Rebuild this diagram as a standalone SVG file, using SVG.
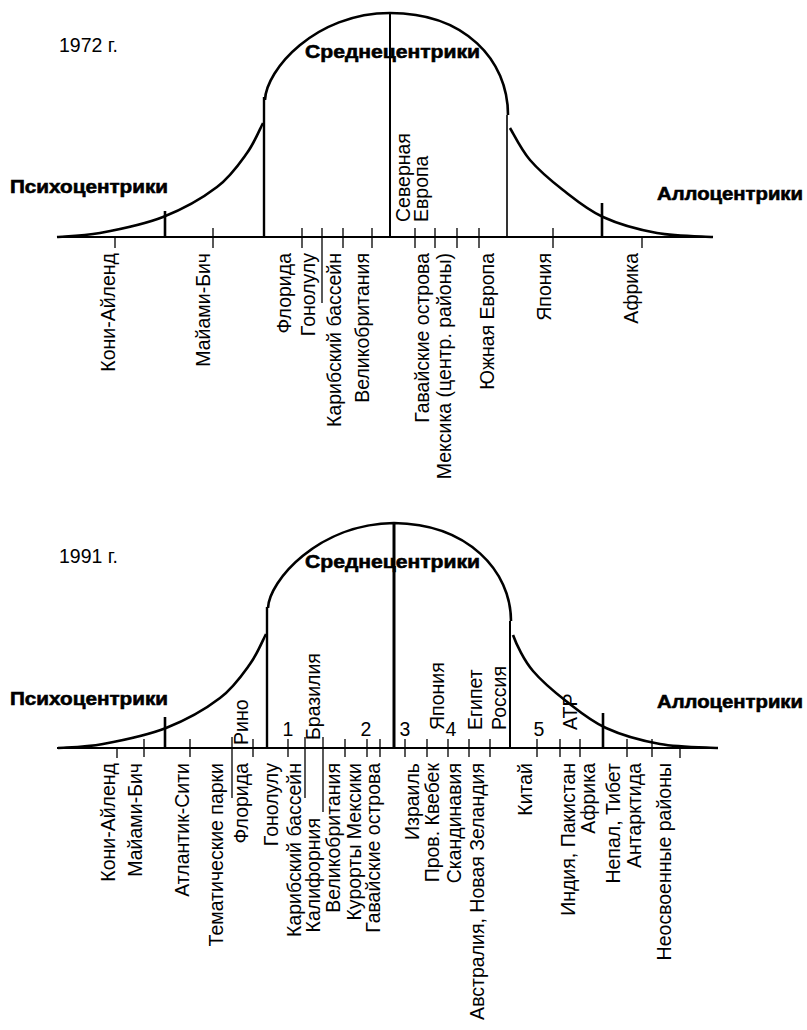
<svg xmlns="http://www.w3.org/2000/svg" width="807" height="1030" viewBox="0 0 807 1030">
<style>
text{font-family:"Liberation Sans",Arial,sans-serif;fill:#000}
.t{font-size:19.5px}
.v{font-size:19.5px;text-anchor:end}
.s{font-size:19.5px}
.b{font-size:19px;font-weight:bold;stroke:#000;stroke-width:0.6}
.ax{stroke:#000;stroke-width:2.2;fill:none}
.cv{stroke:#000;stroke-width:2.6;fill:none}
.tk{stroke:#000;stroke-width:1.3;fill:none}
.mk{stroke:#000;stroke-width:2.6;fill:none}
.vl{stroke:#000;fill:none}
</style>
<rect width="807" height="1030" fill="#fff"/>

<!-- ===== 1972 ===== -->
<g id="chart-1972">
  <g id="curve-1972">
    <path class="cv" d="M57,237 C64,236.3 82.3,236.3 100,233 C117.7,229.7 143.5,224.7 163,217 C182.5,209.3 203,197.7 217,187 C231,176.3 239.3,163.7 247,153 C254.7,142.3 260.3,128 263,123"/>
    <path class="cv" d="M265,100 C266,70 315,13 390,13 C465,13 508,60 508,115"/>
    <path class="cv" d="M510,128 C513.3,133.3 521.2,149.7 530,160 C538.8,170.3 550.8,180.5 563,190 C575.2,199.5 587.3,209.8 603,217 C618.7,224.2 638.7,229.7 657,233 C675.3,236.3 703.7,236.3 713,237"/>
  </g>
  <g id="title-1972"><text class="t" x="59" y="52">1972 г.</text></g>
  <g id="mid-1972"><text class="b" x="305" y="58" textLength="175" lengthAdjust="spacingAndGlyphs">Среднецентрики</text></g>
  <g id="psycho-1972"><text class="b" x="10" y="193" textLength="158" lengthAdjust="spacingAndGlyphs">Психоцентрики</text></g>
  <g id="allo-1972"><text class="b" x="657" y="200" textLength="146" lengthAdjust="spacingAndGlyphs">Аллоцентрики</text></g>
  <g id="connectors-1972">
    <path class="ax" d="M57,237H713"/>
    <path class="vl" stroke-width="2.4" d="M264,97V237"/>
    <path class="vl" stroke-width="2" d="M390,13V237"/>
    <path class="vl" stroke-width="1.6" d="M507,115V237"/>
    <path class="mk" d="M165,211V237M602,203V237"/>
    <path class="tk" d="M213,228V248M302,228V248M343,228V248M372,228V248M415,228V248M435,228V248M457,228V248M479,228V248M553,228V248M115,237V248M642,237V248"/>
    <path class="tk" stroke-width="1.5" d="M322,228V303"/>
  </g>
  <g id="lbl-north-europe"><text class="s" transform="translate(410,222) rotate(-90)">Северная</text><text class="s" transform="translate(428,222) rotate(-90)">Европа</text></g>
  <g id="lbl72-coney"><text class="v" transform="translate(115,253) rotate(-90)">Кони-Айленд</text></g>
  <g id="lbl72-miami"><text class="v" transform="translate(210,253) rotate(-90)">Майами-Бич</text></g>
  <g id="lbl72-florida"><text class="v" transform="translate(291,253) rotate(-90)">Флорида</text></g>
  <g id="lbl72-honolulu"><text class="v" transform="translate(315,253) rotate(-90)">Гонолулу</text></g>
  <g id="lbl72-caribbean"><text class="v" transform="translate(341,253) rotate(-90)">Карибский бассейн</text></g>
  <g id="lbl72-uk"><text class="v" transform="translate(369,253) rotate(-90)">Великобритания</text></g>
  <g id="lbl72-hawaii"><text class="v" transform="translate(429,253) rotate(-90)">Гавайские острова</text></g>
  <g id="lbl72-mexico"><text class="v" transform="translate(451,253) rotate(-90)">Мексика (центр. районы)</text></g>
  <g id="lbl72-south-europe"><text class="v" transform="translate(494,253) rotate(-90)">Южная Европа</text></g>
  <g id="lbl72-japan"><text class="v" transform="translate(551,253) rotate(-90)">Япония</text></g>
  <g id="lbl72-africa"><text class="v" transform="translate(638,253) rotate(-90)">Африка</text></g>
</g>

<!-- ===== 1991 ===== -->
<g id="chart-1991">
  <g id="curve-1991" transform="translate(3,511)">
    <path class="cv" d="M55,237 C64,236.3 82.3,236.3 100,233 C117.7,229.7 143.5,224.7 163,217 C182.5,209.3 203,197.7 217,187 C231,176.3 239.3,163.7 247,153 C254.7,142.3 260.3,128 263,123"/>
    <path class="cv" d="M265,97 C266,70 315,13 391,12 C465,13 508,60 508,110"/>
    <path class="cv" d="M510,124 C513.3,133.3 521.2,149.7 530,160 C538.8,170.3 550.8,180.5 563,190 C575.2,199.5 587.3,209.8 603,217 C618.7,224.2 638.7,229.7 657,233 C675.3,236.3 703.7,236.3 715,237"/>
  </g>
  <g id="title-1991"><text class="t" x="59" y="563">1991 г.</text></g>
  <g id="mid-1991"><text class="b" x="305" y="568" textLength="175" lengthAdjust="spacingAndGlyphs">Среднецентрики</text></g>
  <g id="psycho-1991"><text class="b" x="10" y="705" textLength="158" lengthAdjust="spacingAndGlyphs">Психоцентрики</text></g>
  <g id="allo-1991"><text class="b" x="657" y="708" textLength="146" lengthAdjust="spacingAndGlyphs">Аллоцентрики</text></g>
  <g id="connectors-1991">
    <path class="ax" d="M57,748H718"/>
    <path class="vl" stroke-width="2.4" d="M267,607V748"/>
    <path class="vl" stroke-width="3" d="M394,523V748"/>
    <path class="vl" stroke-width="2" d="M510,621V748"/>
    <path class="mk" d="M165,717V748M603,713V748"/>
    <path class="tk" d="M144,739V757M190,739V757M253,739V757M288,739V757M345,739V757M367,739V757M380,739V757M405,739V757M427,739V757M448,739V757M469,739V757M490,739V757M537,739V757M560,739V757M580,739V757M627,739V757M652,739V757M117,748V758M680,748V758"/>
    <path class="tk" stroke-width="1.5" d="M232,737V798M305,737V798M323,737V812"/>
  </g>
  <g id="lbl91-reno"><text class="s" transform="translate(248,745) rotate(-90)">Рино</text></g>
  <g id="lbl91-brazil"><text class="s" transform="translate(320,740) rotate(-90)">Бразилия</text></g>
  <g id="lbl91-japan"><text class="s" transform="translate(444,730) rotate(-90)">Япония</text></g>
  <g id="lbl91-egypt"><text class="s" transform="translate(482,730) rotate(-90)">Египет</text></g>
  <g id="lbl91-russia"><text class="s" transform="translate(506,730) rotate(-90)">Россия</text></g>
  <g id="lbl91-apr"><text class="s" transform="translate(577,730) rotate(-90)">АТР</text></g>
  <g id="num-1"><text class="t" x="288" y="736" text-anchor="middle">1</text></g>
  <g id="num-2"><text class="t" x="366" y="736" text-anchor="middle">2</text></g>
  <g id="num-3"><text class="t" x="405" y="736" text-anchor="middle">3</text></g>
  <g id="num-4"><text class="t" x="451" y="736" text-anchor="middle">4</text></g>
  <g id="num-5"><text class="t" x="539" y="736" text-anchor="middle">5</text></g>

  <g id="lbl91-coney"><text class="v" transform="translate(115,763) rotate(-90)">Кони-Айленд</text></g>
  <g id="lbl91-miami"><text class="v" transform="translate(142,763) rotate(-90)">Майами-Бич</text></g>
  <g id="lbl91-atlantic"><text class="v" transform="translate(189,763) rotate(-90)">Атлантик-Сити</text></g>
  <g id="lbl91-theme"><text class="v" transform="translate(223,763) rotate(-90)">Тематические парки</text></g>
  <g id="lbl91-florida"><text class="v" transform="translate(248,763) rotate(-90)">Флорида</text></g>
  <g id="lbl91-honolulu"><text class="v" transform="translate(278,763) rotate(-90)">Гонолулу</text></g>
  <g id="lbl91-caribbean"><text class="v" transform="translate(301,763) rotate(-90)">Карибский бассейн</text></g>
  <g id="lbl91-california"><text class="v" transform="translate(320,818) rotate(-90)">Калифорния</text></g>
  <g id="lbl91-uk"><text class="v" transform="translate(340,763) rotate(-90)">Великобритания</text></g>
  <g id="lbl91-mexico"><text class="v" transform="translate(361,763) rotate(-90)">Курорты Мексики</text></g>
  <g id="lbl91-hawaii"><text class="v" transform="translate(380,763) rotate(-90)">Гавайские острова</text></g>
  <g id="lbl91-israel"><text class="v" transform="translate(419,763) rotate(-90)">Израиль</text></g>
  <g id="lbl91-quebec"><text class="v" transform="translate(439,763) rotate(-90)">Пров. Квебек</text></g>
  <g id="lbl91-scandinavia"><text class="v" transform="translate(461,763) rotate(-90)">Скандинавия</text></g>
  <g id="lbl91-australia"><text class="v" transform="translate(484,763) rotate(-90)">Австралия, Новая Зеландия</text></g>
  <g id="lbl91-china"><text class="v" transform="translate(532,763) rotate(-90)">Китай</text></g>
  <g id="lbl91-india"><text class="v" transform="translate(575,763) rotate(-90)">Индия, Пакистан</text></g>
  <g id="lbl91-africa"><text class="v" transform="translate(595,763) rotate(-90)">Африка</text></g>
  <g id="lbl91-nepal"><text class="v" transform="translate(620,763) rotate(-90)">Непал, Тибет</text></g>
  <g id="lbl91-antarctica"><text class="v" transform="translate(641,763) rotate(-90)">Антарктида</text></g>
  <g id="lbl91-wild"><text class="v" transform="translate(671,763) rotate(-90)">Неосвоенные районы</text></g>
</g>
</svg>
